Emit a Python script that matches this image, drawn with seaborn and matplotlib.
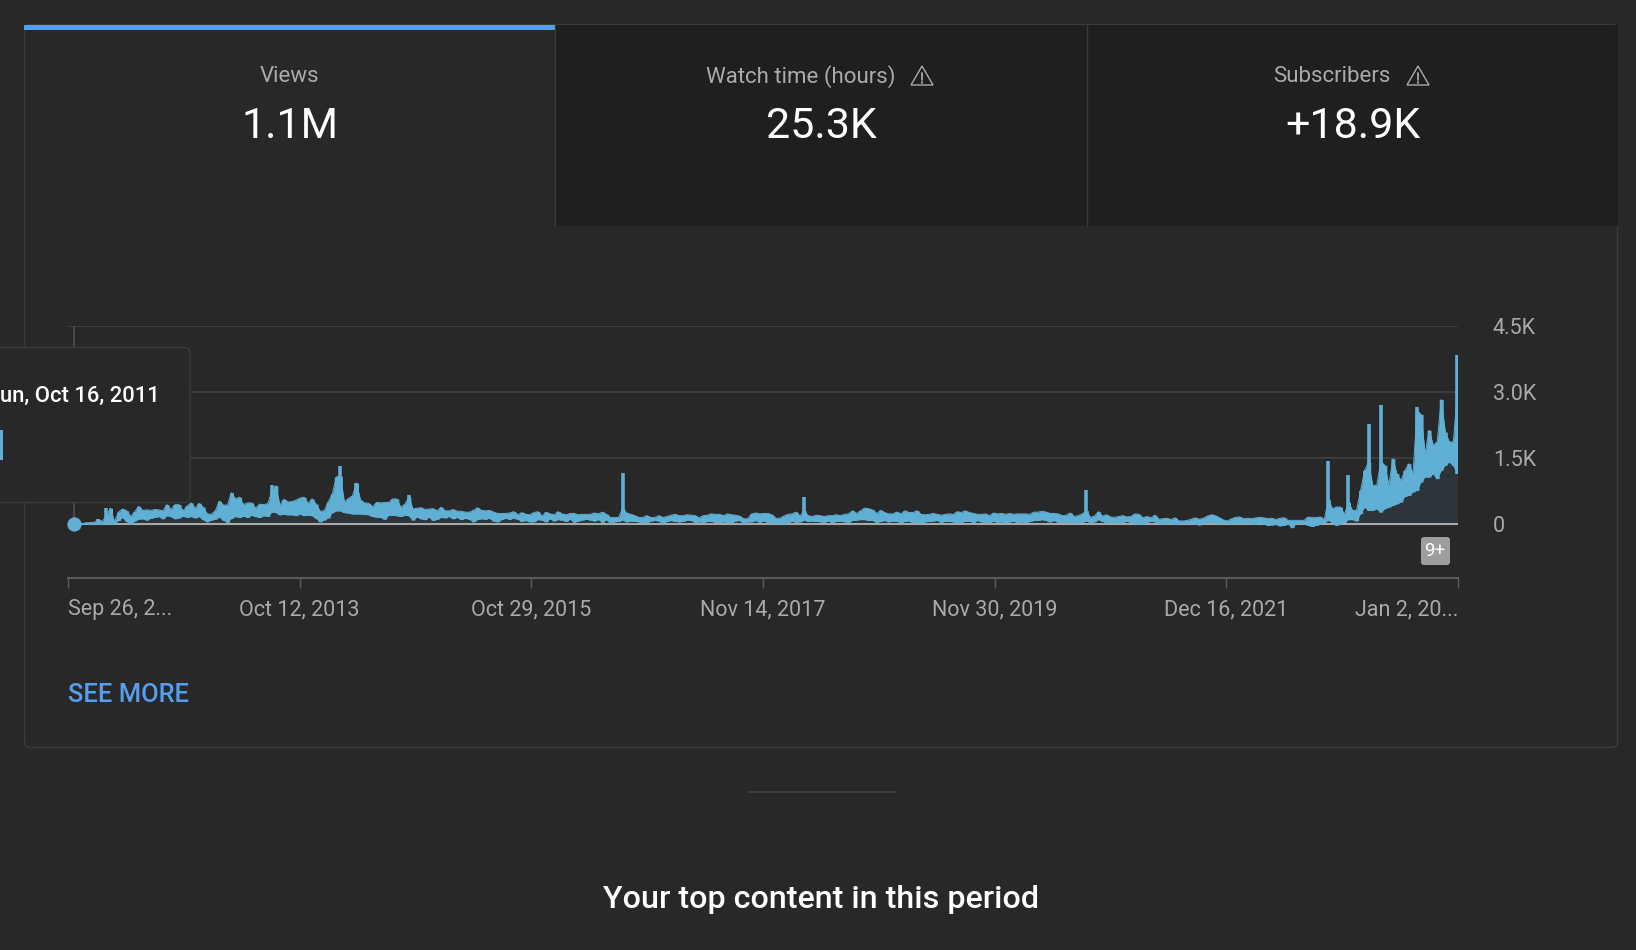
import pandas as pd
import matplotlib
matplotlib.use("Agg")
import matplotlib.pyplot as plt
import seaborn as sns
from matplotlib.patches import Rectangle, FancyBboxPatch, Polygon

# Daily views, every 13 days from Oct 16, 2011
views_high = [
    0, 0, 0, 30, 30, 40, 120, 60, 360, 360, 50, 270, 340, 300, 170, 280, 400, 310, 320, 310,
    330, 320, 300, 440, 330, 440, 440, 300, 410, 480, 360, 470, 380, 230, 220, 300, 520, 430, 430, 710,
    570, 610, 440, 480, 480, 360, 450, 440, 460, 890, 870, 430, 560, 500, 510, 540, 590, 610, 470, 570,
    450, 290, 300, 500, 680, 1070, 1310, 500, 580, 640, 930, 540, 480, 470, 390, 490, 480, 490, 490, 570,
    570, 380, 450, 650, 340, 360, 370, 330, 340, 350, 300, 380, 300, 300, 330, 290, 290, 270, 270, 310,
    370, 310, 300, 310, 270, 240, 240, 240, 250, 280, 210, 260, 220, 210, 260, 280, 180, 270, 230, 210,
    280, 230, 210, 240, 240, 210, 220, 220, 220, 250, 230, 270, 220, 150, 150, 150, 1150, 250, 220, 190,
    150, 150, 190, 150, 150, 190, 150, 170, 200, 220, 190, 190, 210, 200, 190, 140, 190, 200, 230, 220,
    220, 190, 230, 210, 200, 180, 120, 120, 230, 250, 230, 240, 240, 210, 130, 130, 180, 220, 230, 270,
    180, 615, 190, 170, 200, 190, 170, 190, 190, 210, 190, 220, 230, 300, 240, 300, 360, 350, 320, 240,
    310, 260, 230, 230, 270, 230, 300, 260, 260, 300, 220, 210, 220, 240, 220, 200, 220, 230, 220, 280,
    260, 300, 260, 240, 220, 220, 230, 190, 250, 230, 240, 220, 240, 220, 230, 230, 230, 220, 270, 270,
    290, 270, 240, 240, 230, 190, 200, 250, 170, 190, 230, 780, 150, 180, 280, 180, 210, 160, 150, 170,
    190, 160, 170, 230, 220, 140, 170, 140, 200, 110, 120, 130, 100, 140, 70, 70, 80, 110, 140, 110,
    130, 180, 210, 190, 140, 90, 70, 120, 150, 160, 120, 130, 120, 140, 150, 140, 120, 130, 100, 130,
    144, 83, 83, 83, 83, 83, 160, 144, 144, 160, 100, 1425, 350, 385, 385, 220, 1105, 310, 310, 765,
    1220, 2280, 880, 880, 2700, 1335, 880, 1485, 1145, 990, 1220, 1370, 1145, 2660, 2490, 1600, 2130, 1790, 1865, 2830,
    2090, 1865, 1865, 3850,
]
views_low = [
    0, 0, 0, 0, 0, 0, 0, 0, 20, 0, 10, 80, 150, 60, 0, 70, 110, 120, 90, 130,
    150, 170, 120, 190, 170, 120, 140, 180, 150, 170, 140, 170, 100, 50, 90, 110, 160, 90, 40, 130,
    170, 150, 180, 150, 200, 170, 150, 190, 170, 270, 260, 210, 220, 210, 210, 190, 230, 190, 200, 190,
    130, 50, 90, 140, 260, 300, 300, 260, 250, 230, 230, 230, 220, 210, 170, 160, 150, 110, 200, 200,
    190, 170, 200, 190, 90, 160, 120, 100, 160, 80, 110, 150, 140, 170, 120, 150, 100, 130, 110, 50,
    100, 120, 110, 130, 70, 50, 100, 130, 110, 130, 110, 60, 80, 50, 50, 100, 90, 50, 120, 70,
    100, 90, 60, 110, 40, 70, 90, 110, 90, 70, 100, 40, 100, 20, 50, 60, 90, 50, 70, 60,
    50, 30, 30, 70, 80, 70, 10, 60, 80, 60, 50, 60, 90, 80, 40, 50, 30, 60, 60, 40,
    40, 50, 40, 30, 70, 80, 20, 50, 50, 80, 40, 70, 40, 10, 10, 10, 10, 30, 60, 40,
    50, 90, 60, 70, 60, 50, 40, 70, 30, 60, 70, 50, 40, 80, 90, 100, 100, 80, 80, 40,
    60, 80, 50, 70, 60, 30, 60, 70, 30, 40, 20, 50, 60, 70, 80, 40, 60, 60, 50, 30,
    40, 60, 70, 30, 80, 50, 40, 30, 60, 40, 50, 30, 50, 60, 30, 50, 30, 60, 80, 80,
    100, 80, 50, 80, 40, 40, 30, 30, 30, 30, 40, 70, 30, 50, 100, 60, 30, 40, 30, 30,
    40, 60, 40, 10, 10, -10, 40, 60, 50, 20, 0, 20, 10, -10, 10, 10, 10, 20, 10, -20,
    30, 30, 40, 10, 10, 20, 20, 0, 20, 10, 10, 20, 10, -10, 30, 0, -30, -20, -10, -40,
    -30, 8, -83, 8, 8, 8, -30, -53, -30, -8, 38, 83, 38, -30, 8, 38, 100, 100, 70, 235,
    385, 310, 310, 350, 270, 350, 385, 425, 460, 500, 630, 650, 730, 765, 955, 1070, 1070, 1145, 1030, 1220,
    1335, 1410, 1335, 1145,
]
tick_dates = ["2011-09-26", "2013-10-12", "2015-10-29", "2017-11-14", "2019-11-30", "2021-12-16", "2024-01-02"]
tick_labels = ["Sep 26, 2...", "Oct 12, 2013", "Oct 29, 2015", "Nov 14, 2017", "Nov 30, 2019", "Dec 16, 2021", "Jan 2, 20..."]
y_ticks = [0, 1500, 3000, 4500]
y_labels = ["0", "1.5K", "3.0K", "4.5K"]
tab_names = ["Views", "Watch time (hours)", "Subscribers"]
tab_values = ["1.1M", "25.3K", "+18.9K"]

BG = "#282828"
TAB_DARK = "#1f1f1f"
BORDER = "#3a3a3a"
GRID = "#3a3a3a"
MUTED = "#aaaaaa"
LINE_BLUE = "#60afd5"
TAB_BLUE = "#559ff0"

W, H = 1636, 950

sns.set_theme(style="dark")
plt.rcParams["font.family"] = ["Roboto", "DejaVu Sans"]

fig = plt.figure(figsize=(W / 100, H / 100), dpi=100, facecolor=BG)

# page chrome, in pixel coordinates
back = fig.add_axes([0, 0, 1, 1], zorder=0)
back.set_xlim(0, W)
back.set_ylim(H, 0)
back.axis("off")

back.add_patch(FancyBboxPatch((24.5, 24.5), 1593, 723, boxstyle="round,pad=0,rounding_size=6",
                              fc=BG, ec=BORDER, lw=1))
back.add_patch(Rectangle((555, 25), 1063, 201, fc=TAB_DARK, ec="none"))
back.plot([555, 555], [25, 226], color=BORDER, lw=1)
back.plot([1087, 1087], [25, 226], color=BORDER, lw=1)
back.add_patch(Rectangle((24, 25), 531, 5, fc=TAB_BLUE, ec="none"))

name_centers = [290, 801, 1332]
value_centers = [290, 821, 1353]
for name, value, nx, vx in zip(tab_names, tab_values, name_centers, value_centers):
    back.text(nx, 76.5, name, color=MUTED, fontsize=16, ha="center", va="center")
    back.text(vx, 127, value, color="white", fontsize=31, ha="center", va="center")


def warning_icon(ax, x):
    ax.add_patch(Polygon([(x, 66), (x + 11, 85), (x - 11, 85)], closed=True, fc="none", ec=MUTED, lw=1))
    ax.plot([x, x], [73, 80], color=MUTED, lw=1.3)
    ax.plot([x, x], [81.5, 83], color=MUTED, lw=1.3)


warning_icon(back, 922)
warning_icon(back, 1418)

back.text(68, 695, "SEE MORE", color=TAB_BLUE, fontsize=18.4, fontweight="medium", ha="left", va="center")
back.plot([748, 895], [792, 792], color=BORDER, lw=1.5)
back.text(821, 900, "Your top content in this period", color="white", fontsize=23.2,
          fontweight="medium", ha="center", va="center")

# the chart itself
ax = fig.add_axes([68 / W, 1 - 578 / H, (1458 - 68) / W, (578 - 326) / H], zorder=1)
ax.patch.set_alpha(0)

dates = pd.date_range("2011-10-16", periods=len(views_high), freq="13D")
df = pd.DataFrame({"date": dates, "high": views_high, "low": views_low})

# jagged band follows the neighbours, single-sample peaks are drawn as thin bars on top
neighbours = df["high"].rolling(5, center=True, min_periods=1).median()
df["band"] = df["high"].clip(upper=neighbours * 1.6)
peaks = df[df["high"] > df["band"]]

ax.fill_between(df["date"], 0, df["low"], step="mid", color="#2d3539", lw=0, zorder=2)
ax.fill_between(df["date"], df["low"], df["band"], color=LINE_BLUE, lw=0, zorder=4)
ax.fill_between(df["date"], df["low"], df["band"], step="mid", color=LINE_BLUE, lw=0, zorder=4)
sns.lineplot(data=df, x="date", y="band", ax=ax, color=LINE_BLUE, lw=0.7,
             estimator=None, errorbar=None, zorder=4)
sns.lineplot(data=df, x="date", y="low", ax=ax, color=LINE_BLUE, lw=0.7,
             estimator=None, errorbar=None, zorder=4)
ax.vlines(peaks["date"], peaks["low"], peaks["high"], color=LINE_BLUE, lw=2.6, zorder=4)

ax.axhline(0, color="#a8a8a8", lw=1.5, zorder=3)

hover = pd.Timestamp("2011-10-16")
ax.plot([hover, hover], [0, 4500], color="#484848", lw=1.5, zorder=1)
ax.scatter([hover], [0], s=105, color=LINE_BLUE, zorder=6, clip_on=False, linewidths=0)

ax.set_xlim(pd.Timestamp(tick_dates[0]), pd.Timestamp(tick_dates[-1]))
ax.set_ylim(-54 / 66 * 1500, 4500)
ax.set_xlabel("")
ax.set_ylabel("")

ax.set_xticks([pd.Timestamp(d) for d in tick_dates])
ax.set_xticklabels(tick_labels)
ax.set_yticks(y_ticks)
ax.set_yticklabels(y_labels)
ax.yaxis.tick_right()
ax.tick_params(axis="x", length=7.2, width=1, color="#5a5a5a", labelcolor=MUTED, labelsize=15.5, pad=8, bottom=True)
ax.tick_params(axis="y", length=0, labelsize=15.5, labelcolor=MUTED, pad=25)
for lab in ax.get_yticklabels():
    lab.set_ha("left")
labs = ax.get_xticklabels()
labs[0].set_ha("left")
labs[-1].set_ha("right")

ax.grid(axis="y", color=GRID, lw=1.5, zorder=0)
ax.grid(axis="x", visible=False)
for name in ["top", "left", "right"]:
    ax.spines[name].set_visible(False)
ax.spines["bottom"].set_visible(True)
ax.spines["bottom"].set_color("#5a5a5a")
ax.spines["bottom"].set_linewidth(1.5)

# tooltip and badge sit on top of the chart
front = fig.add_axes([0, 0, 1, 1], zorder=2)
front.set_xlim(0, W)
front.set_ylim(H, 0)
front.axis("off")

front.add_patch(FancyBboxPatch((-20, 347.5), 210, 155, boxstyle="round,pad=0,rounding_size=6",
                               fc=BG, ec=BORDER, lw=1))
front.text(160, 396.5, "un, Oct 16, 2011", color="white", fontsize=15.8, fontweight="medium", ha="right", va="center")
front.add_patch(Rectangle((0, 430), 3, 30, fc=LINE_BLUE, ec="none"))

front.add_patch(FancyBboxPatch((1421, 537), 29, 28, boxstyle="round,pad=0,rounding_size=3",
                               fc="#9e9e9e", ec="none"))
front.text(1435, 551.5, "9+", color="white", fontsize=13.5, ha="center", va="center")

fig.savefig("out.png", dpi=100, facecolor=BG)
